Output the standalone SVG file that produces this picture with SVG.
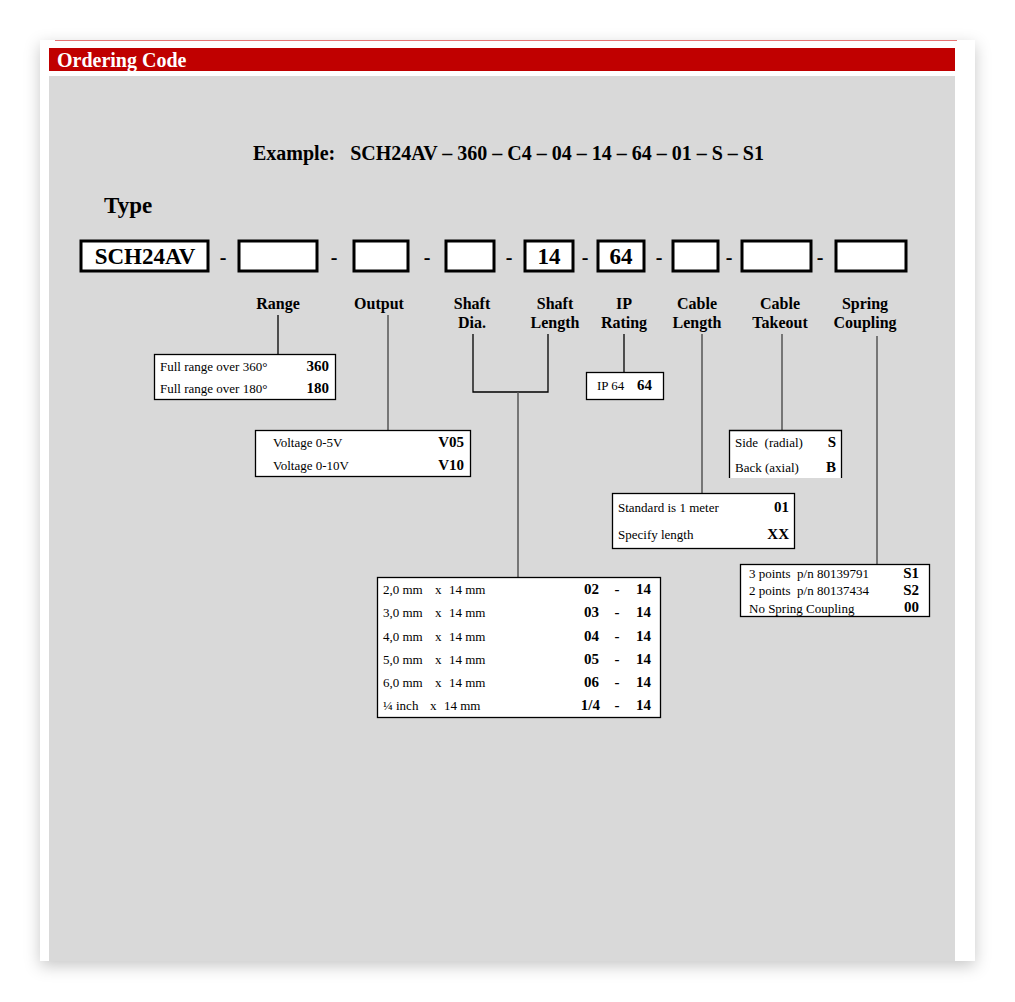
<svg xmlns="http://www.w3.org/2000/svg" width="1015" height="1002" viewBox="0 0 1015 1002">
<style>
text{font-family:"Liberation Serif","Times New Roman",serif;fill:#000}
.b{font-weight:bold}
.lbl{font-weight:bold;font-size:16px;text-anchor:middle}
.sm{font-size:13px}
.code{font-weight:bold;font-size:15px;text-anchor:end}
.slot{fill:#fff;stroke:#000;stroke-width:3}
.opt{fill:#fff;stroke:#000;stroke-width:1.3}
.dash{font-weight:bold;font-size:20px;text-anchor:middle}
.ln{stroke:#000;stroke-width:1.3;fill:none}
.ln2{stroke:#555;stroke-width:1.5;fill:none}
</style>
<defs>
<filter id="sh" x="-5%" y="-5%" width="110%" height="110%">
<feDropShadow dx="0" dy="5" stdDeviation="8" flood-color="#000" flood-opacity="0.22"/>
</filter>
</defs>
<rect width="1015" height="1002" fill="#fff"/>
<g id="page">
<rect x="40" y="40" width="935" height="921" fill="#fff" filter="url(#sh)"/>
<line x1="55" y1="40.5" x2="957" y2="40.5" stroke="#e57373" stroke-width="1"/>
<rect x="49" y="48" width="906" height="23" fill="#c00000"/>
<text x="57" y="67" class="b" font-size="20" style="fill:#fff">Ordering Code</text>
<rect x="49" y="76" width="906" height="885" fill="#d9d9d9"/>
<text x="253" y="160" class="b" font-size="20" xml:space="preserve">Example:   SCH24AV – 360 – C4 – 04 – 14 – 64 – 01 – S – S1</text>
<text x="104" y="213" class="b" font-size="23">Type</text>
</g>
<g id="code-row">
<g id="slot-type"><rect x="81" y="241" width="127" height="30" class="slot"/><text x="145" y="264" class="b" font-size="23" text-anchor="middle">SCH24AV</text></g>
<text x="223" y="264" class="dash">-</text>
<g id="slot-range"><rect x="239" y="241" width="78" height="30" class="slot"/></g>
<text x="334" y="264" class="dash">-</text>
<g id="slot-output"><rect x="354" y="241" width="54" height="30" class="slot"/></g>
<text x="427" y="264" class="dash">-</text>
<g id="slot-shaftdia"><rect x="446" y="241" width="48" height="30" class="slot"/></g>
<text x="509" y="264" class="dash">-</text>
<g id="slot-shaftlen"><rect x="525" y="241" width="48" height="30" class="slot"/><text x="549" y="264" class="b" font-size="23" text-anchor="middle">14</text></g>
<text x="585" y="264" class="dash">-</text>
<g id="slot-ip"><rect x="598" y="241" width="46" height="30" class="slot"/><text x="621" y="264" class="b" font-size="23" text-anchor="middle">64</text></g>
<text x="659" y="264" class="dash">-</text>
<g id="slot-cablelen"><rect x="673" y="241" width="45" height="30" class="slot"/></g>
<text x="729" y="264" class="dash">-</text>
<g id="slot-takeout"><rect x="742" y="241" width="69" height="30" class="slot"/></g>
<text x="820" y="264" class="dash">-</text>
<g id="slot-spring"><rect x="836" y="241" width="70" height="30" class="slot"/></g>
</g>
<g id="labels">
<text x="278" y="309" class="lbl">Range</text>
<text x="379" y="309" class="lbl">Output</text>
<text x="472" y="309" class="lbl">Shaft</text><text x="472" y="328" class="lbl">Dia.</text>
<text x="555" y="309" class="lbl">Shaft</text><text x="555" y="328" class="lbl">Length</text>
<text x="624" y="309" class="lbl">IP</text><text x="624" y="328" class="lbl">Rating</text>
<text x="697" y="309" class="lbl">Cable</text><text x="697" y="328" class="lbl">Length</text>
<text x="780" y="309" class="lbl">Cable</text><text x="780" y="328" class="lbl">Takeout</text>
<text x="865" y="309" class="lbl">Spring</text><text x="865" y="328" class="lbl">Coupling</text>
</g>
<g id="connectors">
<line x1="278" y1="315" x2="278" y2="354" class="ln"/>
<line x1="388" y1="315" x2="388" y2="430" class="ln2"/>
<polyline points="473,334 473,392 548,392 548,334" class="ln"/>
<line x1="518" y1="392" x2="518" y2="577" class="ln2"/>
<line x1="624" y1="334" x2="624" y2="372" class="ln"/>
<line x1="702" y1="334" x2="702" y2="493" class="ln2"/>
<line x1="782" y1="334" x2="782" y2="430" class="ln2"/>
<line x1="877" y1="336" x2="877" y2="564" class="ln2"/>
</g>
<g id="box-range">
<rect x="154.5" y="354.5" width="181" height="45" class="opt"/>
<text x="160" y="371" class="sm">Full range over 360°</text><text x="329" y="371" class="code">360</text>
<text x="160" y="393" class="sm">Full range over 180°</text><text x="329" y="393" class="code">180</text>
</g>
<g id="box-output">
<rect x="255.5" y="430.5" width="215" height="46" class="opt"/>
<text x="273" y="447" class="sm">Voltage 0-5V</text><text x="464" y="447" class="code">V05</text>
<text x="273" y="470" class="sm">Voltage 0-10V</text><text x="464" y="470" class="code">V10</text>
</g>
<g id="box-ip">
<rect x="586.5" y="372.5" width="77" height="27" class="opt"/>
<text x="597" y="390" class="sm">IP 64</text><text x="652" y="390" class="code" font-size="14">64</text>
</g>
<g id="box-takeout">
<rect x="729" y="430" width="113" height="48" fill="#fff"/>
<path d="M729.5,478 V430.5 H841.5 V478" class="ln"/>
<text x="735" y="447" class="sm" xml:space="preserve">Side  (radial)</text><text x="836" y="447" class="code">S</text>
<text x="735" y="472" class="sm">Back (axial)</text><text x="836" y="472" class="code">B</text>
</g>
<g id="box-cablelen">
<rect x="612.5" y="493.5" width="182" height="55" class="opt"/>
<text x="618" y="512" class="sm">Standard is 1 meter</text><text x="789" y="512" class="code">01</text>
<text x="618" y="539" class="sm">Specify length</text><text x="789" y="539" class="code">XX</text>
</g>
<g id="box-spring">
<rect x="740.5" y="564.5" width="189" height="52" class="opt"/>
<text x="749" y="578" class="sm" xml:space="preserve">3 points  p/n 80139791</text><text x="919" y="578" class="code">S1</text>
<text x="749" y="595" class="sm" xml:space="preserve">2 points  p/n 80137434</text><text x="919" y="595" class="code">S2</text>
<text x="749" y="613" class="sm">No Spring Coupling</text><text x="919" y="612" class="code">00</text>
</g>
<g id="box-shaft">
<rect x="377.5" y="577.5" width="283" height="140" class="opt"/>
<g class="sm">
<text x="383" y="594" class="sm">2,0 mm</text><text x="435" y="594" class="sm">x</text><text x="449" y="594" class="sm">14 mm</text>
<text x="383" y="617" class="sm">3,0 mm</text><text x="435" y="617" class="sm">x</text><text x="449" y="617" class="sm">14 mm</text>
<text x="383" y="641" class="sm">4,0 mm</text><text x="435" y="641" class="sm">x</text><text x="449" y="641" class="sm">14 mm</text>
<text x="383" y="664" class="sm">5,0 mm</text><text x="435" y="664" class="sm">x</text><text x="449" y="664" class="sm">14 mm</text>
<text x="383" y="687" class="sm">6,0 mm</text><text x="435" y="687" class="sm">x</text><text x="449" y="687" class="sm">14 mm</text>
<text x="383" y="710" class="sm">¼ inch</text><text x="430" y="710" class="sm">x</text><text x="444" y="710" class="sm">14 mm</text>
</g>
<text x="599" y="594" class="code">02</text><text x="617" y="594" class="code" text-anchor="middle" style="text-anchor:middle">-</text><text x="651" y="594" class="code">14</text>
<text x="599" y="617" class="code">03</text><text x="617" y="617" class="code" style="text-anchor:middle">-</text><text x="651" y="617" class="code">14</text>
<text x="599" y="641" class="code">04</text><text x="617" y="641" class="code" style="text-anchor:middle">-</text><text x="651" y="641" class="code">14</text>
<text x="599" y="664" class="code">05</text><text x="617" y="664" class="code" style="text-anchor:middle">-</text><text x="651" y="664" class="code">14</text>
<text x="599" y="687" class="code">06</text><text x="617" y="687" class="code" style="text-anchor:middle">-</text><text x="651" y="687" class="code">14</text>
<text x="600" y="710" class="code">1/4</text><text x="617" y="710" class="code" style="text-anchor:middle">-</text><text x="651" y="710" class="code">14</text>
</g>
</svg>
